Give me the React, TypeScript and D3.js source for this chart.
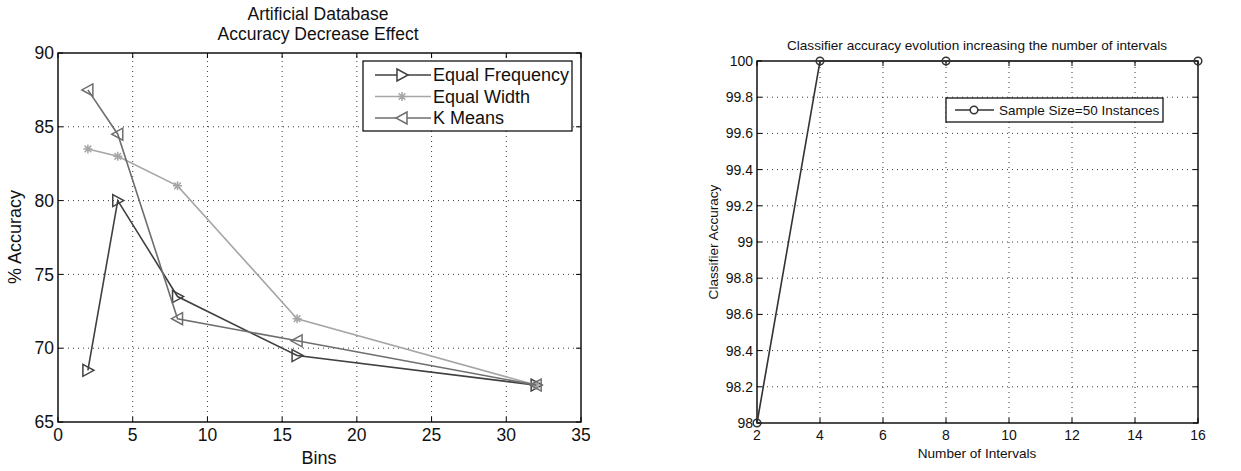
import React, { useEffect, useRef } from 'react';
import * as d3 from 'd3';

// left panel: accuracy decrease by number of bins
const bins = [2, 4, 8, 16, 32];
const equalFrequency = [68.5, 80, 73.5, 69.5, 67.5];
const equalWidth = [83.5, 83, 81, 72, 67.5];
const kMeans = [87.5, 84.5, 72, 70.5, 67.5];
const leftXTicks = [0, 5, 10, 15, 20, 25, 30, 35];
const leftYTicks = [65, 70, 75, 80, 85, 90];

// right panel: accuracy by number of intervals
const intervals = [2, 4, 8, 16];
const sampleAccuracy = [98, 100, 100, 100];
const rightXTicks = [2, 4, 6, 8, 10, 12, 14, 16];
const rightYTicks = [98, 98.2, 98.4, 98.6, 98.8, 99, 99.2, 99.4, 99.6, 99.8, 100];

const FONT = '"Liberation Sans", Arial, sans-serif';

type Series = { name: string; values: number[]; color: string; marker: string };

function markerPath(kind: string): string {
  if (kind === 'right') return 'M-5,-6L6,0L-5,6Z';
  if (kind === 'left') return 'M5,-6L-6,0L5,6Z';
  if (kind === 'star') return 'M-4.5,0H4.5M0,-4.5V4.5M-3.3,-3.3L3.3,3.3M-3.3,3.3L3.3,-3.3';
  return '';
}

function drawFrame(
  g: d3.Selection<SVGGElement, unknown, null, undefined>,
  x: d3.ScaleLinear<number, number>,
  y: d3.ScaleLinear<number, number>,
  xTicks: number[],
  yTicks: number[],
  fontSize: number,
  fmtY: (v: number) => string
) {
  const [x0, x1] = x.range();
  const [y0, y1] = y.range();
  // dotted grid
  g.selectAll('.gx')
    .data(xTicks.slice(1, -1))
    .enter()
    .append('line')
    .attr('x1', (d) => x(d))
    .attr('x2', (d) => x(d))
    .attr('y1', y0)
    .attr('y2', y1)
    .attr('stroke', '#222')
    .attr('stroke-width', 0.9)
    .attr('stroke-dasharray', '1,4');
  g.selectAll('.gy')
    .data(yTicks.slice(1, -1))
    .enter()
    .append('line')
    .attr('x1', x0)
    .attr('x2', x1)
    .attr('y1', (d) => y(d))
    .attr('y2', (d) => y(d))
    .attr('stroke', '#222')
    .attr('stroke-width', 0.9)
    .attr('stroke-dasharray', '1,4');

  // inward ticks on all sides
  const tl = 5;
  xTicks.forEach((t) => {
    g.append('line').attr('x1', x(t)).attr('x2', x(t)).attr('y1', y0).attr('y2', y0 - tl).attr('stroke', '#000');
    g.append('line').attr('x1', x(t)).attr('x2', x(t)).attr('y1', y1).attr('y2', y1 + tl).attr('stroke', '#000');
  });
  yTicks.forEach((t) => {
    g.append('line').attr('x1', x0).attr('x2', x0 + tl).attr('y1', y(t)).attr('y2', y(t)).attr('stroke', '#000');
    g.append('line').attr('x1', x1).attr('x2', x1 - tl).attr('y1', y(t)).attr('y2', y(t)).attr('stroke', '#000');
  });

  g.append('rect')
    .attr('x', x0)
    .attr('y', y1)
    .attr('width', x1 - x0)
    .attr('height', y0 - y1)
    .attr('fill', 'none')
    .attr('stroke', '#000')
    .attr('stroke-width', 1.4);

  g.selectAll('.xl')
    .data(xTicks)
    .enter()
    .append('text')
    .attr('x', (d) => x(d))
    .attr('y', y0 + 6)
    .attr('dy', '0.75em')
    .attr('text-anchor', 'middle')
    .attr('font-size', fontSize)
    .text((d) => String(d));
  g.selectAll('.yl')
    .data(yTicks)
    .enter()
    .append('text')
    .attr('x', x0 - 4)
    .attr('y', (d) => y(d))
    .attr('dy', '0.35em')
    .attr('text-anchor', 'end')
    .attr('font-size', fontSize)
    .text((d) => fmtY(d));
}

export default function App() {
  const ref = useRef<SVGSVGElement>(null);

  useEffect(() => {
    const svg = d3.select(ref.current);
    svg.selectAll('*').remove();
    const root = svg.append('g').attr('font-family', FONT).attr('fill', '#111');

    // ---------- left chart ----------
    const xL = d3.scaleLinear().domain([0, 35]).range([58, 581]);
    const yL = d3.scaleLinear().domain([65, 90]).range([422, 53]);
    const gL = root.append('g');
    drawFrame(gL, xL, yL, leftXTicks, leftYTicks, 17.5, (v) => String(v));

    const series: Series[] = [
      { name: 'Equal Frequency', values: equalFrequency, color: '#404040', marker: 'right' },
      { name: 'Equal Width', values: equalWidth, color: '#a6a6a6', marker: 'star' },
      { name: 'K Means', values: kMeans, color: '#6e6e6e', marker: 'left' },
    ];
    const lineL = d3
      .line<number>()
      .x((_, i) => xL(bins[i]))
      .y((d) => yL(d));

    series.forEach((s) => {
      gL.append('path')
        .attr('d', lineL(s.values))
        .attr('fill', 'none')
        .attr('stroke', s.color)
        .attr('stroke-width', 1.6);
      gL.selectAll(null)
        .data(s.values)
        .enter()
        .append('path')
        .attr('transform', (d, i) => `translate(${xL(bins[i])},${yL(d)})`)
        .attr('d', markerPath(s.marker))
        .attr('fill', 'none')
        .attr('stroke', s.color)
        .attr('stroke-width', 1.5);
    });

    gL.append('text')
      .attr('x', 318)
      .attr('y', 19.5)
      .attr('text-anchor', 'middle')
      .attr('font-size', 17.5)
      .text('Artificial Database');
    gL.append('text')
      .attr('x', 318)
      .attr('y', 39.5)
      .attr('text-anchor', 'middle')
      .attr('font-size', 17.5)
      .text('Accuracy Decrease Effect');
    gL.append('text')
      .attr('x', 319)
      .attr('y', 464)
      .attr('text-anchor', 'middle')
      .attr('font-size', 18)
      .text('Bins');
    gL.append('text')
      .attr('transform', 'translate(21,237) rotate(-90)')
      .attr('text-anchor', 'middle')
      .attr('font-size', 18)
      .text('% Accuracy');

    // left legend
    const legL = gL.append('g');
    legL.append('rect')
      .attr('x', 363)
      .attr('y', 61)
      .attr('width', 209)
      .attr('height', 70)
      .attr('fill', '#fff')
      .attr('stroke', '#000')
      .attr('stroke-width', 1.2);
    series.forEach((s, i) => {
      const ly = 75 + i * 21.5;
      legL.append('line')
        .attr('x1', 375)
        .attr('x2', 431)
        .attr('y1', ly)
        .attr('y2', ly)
        .attr('stroke', s.color)
        .attr('stroke-width', 1.6);
      legL.append('path')
        .attr('transform', `translate(402,${ly})`)
        .attr('d', markerPath(s.marker))
        .attr('fill', '#fff')
        .attr('stroke', s.color)
        .attr('stroke-width', 1.5);
      legL.append('text')
        .attr('x', 433)
        .attr('y', ly)
        .attr('dy', '0.36em')
        .attr('font-size', 18)
        .text(s.name);
    });

    // ---------- right chart ----------
    const xR = d3.scaleLinear().domain([2, 16]).range([757, 1198]);
    const yR = d3.scaleLinear().domain([98, 100]).range([423, 61]);
    const gR = root.append('g');
    drawFrame(gR, xR, yR, rightXTicks, rightYTicks, 14, (v) => d3.format('~g')(+v.toFixed(1)));

    const lineR = d3
      .line<number>()
      .x((_, i) => xR(intervals[i]))
      .y((d) => yR(d));
    gR.append('path')
      .attr('d', lineR(sampleAccuracy))
      .attr('fill', 'none')
      .attr('stroke', '#333')
      .attr('stroke-width', 1.6);
    gR.selectAll(null)
      .data(sampleAccuracy)
      .enter()
      .append('circle')
      .attr('cx', (_, i) => xR(intervals[i]))
      .attr('cy', (d) => yR(d))
      .attr('r', 3.8)
      .attr('fill', 'none')
      .attr('stroke', '#333')
      .attr('stroke-width', 1.5);

    gR.append('text')
      .attr('x', 977)
      .attr('y', 50)
      .attr('text-anchor', 'middle')
      .attr('font-size', 13.6)
      .text('Classifier accuracy evolution increasing the number of intervals');
    gR.append('text')
      .attr('x', 977)
      .attr('y', 458)
      .attr('text-anchor', 'middle')
      .attr('font-size', 13.6)
      .text('Number of Intervals');
    gR.append('text')
      .attr('transform', 'translate(718,242) rotate(-90)')
      .attr('text-anchor', 'middle')
      .attr('font-size', 13.6)
      .text('Classifier Accuracy');

    const legR = gR.append('g');
    legR.append('rect')
      .attr('x', 946)
      .attr('y', 98)
      .attr('width', 217)
      .attr('height', 24)
      .attr('fill', '#fff')
      .attr('stroke', '#000')
      .attr('stroke-width', 1.2);
    legR.append('line')
      .attr('x1', 955)
      .attr('x2', 994)
      .attr('y1', 110)
      .attr('y2', 110)
      .attr('stroke', '#333')
      .attr('stroke-width', 1.6);
    legR.append('circle')
      .attr('cx', 974)
      .attr('cy', 110)
      .attr('r', 3.8)
      .attr('fill', '#fff')
      .attr('stroke', '#333')
      .attr('stroke-width', 1.5);
    legR.append('text')
      .attr('x', 999)
      .attr('y', 110)
      .attr('dy', '0.36em')
      .attr('font-size', 13.5)
      .text('Sample Size=50 Instances');
  }, []);

  return (
    <svg
      ref={ref}
      width={1241}
      height={471}
      viewBox="0 0 1241 471"
      style={{ position: 'absolute', left: 0, top: 0, background: '#fff' }}
    />
  );
}
